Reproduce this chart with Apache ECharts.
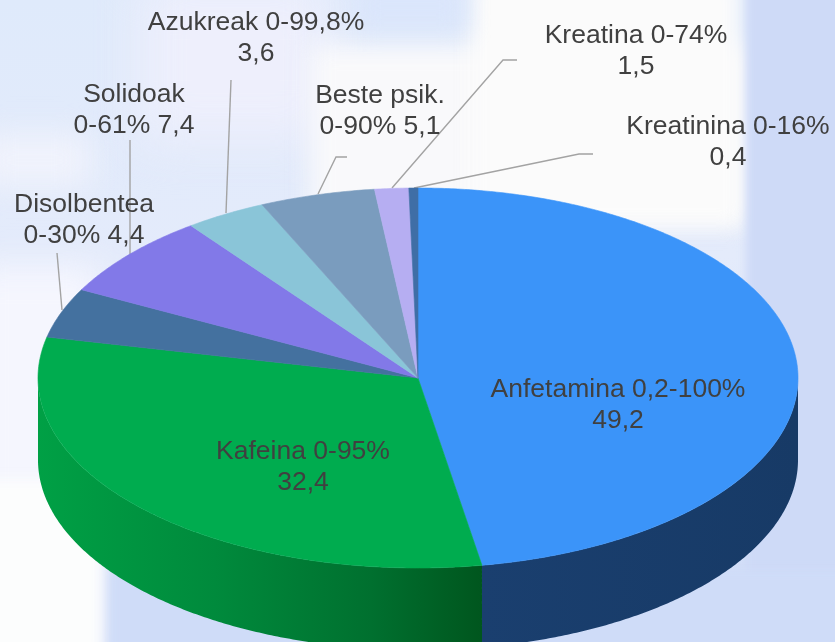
<!DOCTYPE html>
<html>
<head>
<meta charset="utf-8">
<style>
html,body{margin:0;padding:0;width:835px;height:642px;overflow:hidden;background:#e6ecfb}
#bg{position:absolute;left:0;top:0;width:835px;height:642px;overflow:hidden;background:#dfe8fb}
#bg div{position:absolute}
#main{position:absolute;left:0;top:0;width:835px;height:642px}
</style>
<script src="https://cdn.jsdelivr.net/npm/echarts@6/dist/echarts.min.js"></script>
</head>
<body>
<div id="bg">
  <div style="left:0;top:0;width:835px;height:642px;background:linear-gradient(180deg,#dfeafb 0%,#e4ebfb 40%,#cfdcf8 100%)"></div>
  <div style="left:140px;top:-20px;width:190px;height:160px;background:#eeeffc;filter:blur(25px)"></div>
  <div style="left:-20px;top:135px;width:110px;height:50px;background:#f1f3fc;filter:blur(16px)"></div>
  <div style="left:310px;top:45px;width:440px;height:180px;background:#f9f9fb;filter:blur(12px)"></div>
  <div style="left:470px;top:-20px;width:270px;height:245px;background:#fbfbfb;filter:blur(10px)"></div>
  <div style="left:355px;top:-15px;width:110px;height:42px;background:#dae5fb;filter:blur(12px)"></div>
  <div style="left:746px;top:-10px;width:110px;height:660px;background:#cedaf7;filter:blur(4px)"></div>
  <div style="left:-30px;top:265px;width:132px;height:400px;background:#f5f6fe;filter:blur(16px)"></div>
  <div style="left:-20px;top:480px;width:122px;height:180px;background:#fcfdfd;filter:blur(7px)"></div>
  <div style="left:110px;top:570px;width:740px;height:90px;background:#cfdcf8;filter:blur(4px)"></div>
</div>
<div id="main"></div>
<script>
// ---- data ----
const categories = ['Anfetamina','Kafeina','Disolbentea','Solidoak','Azukreak','Beste psik.','Kreatina','Kreatinina'];
const ranges = ['0,2-100%','0-95%','0-30%','0-61%','0-99,8%','0-90%','0-74%','0-16%'];
const values = [49.2,32.4,4.4,7.4,3.6,5.1,1.5,0.4];
const valueTexts = ['49,2','32,4','4,4','7,4','3,6','5,1','1,5','0,4'];

// ---- styling and layout ----
const topColors = ['#3b94f9','#00ac4f','#44719f','#8279e8','#8ac5d8','#7a9cbe','#b6aef2','#3f6ea6'];
const breakAfterName = [false,false,true,true,false,true,false,false];
const labelCentres = [[618,405],[303,467],[84,220],[134,110],[256,38],[380,111],[636,51],[728,142]];
const leaders = [null,null,
  [[57,253],[62,310]],
  [[130,140],[130,256]],
  [[231,80],[226,213]],
  [[347,157],[336,157],[318,194]],
  [[517,60],[503,60],[392,188]],
  [[593,154],[579,154],[414,188]]];
const cx = 418, cy = 378, rx = 380, ry = 190, depth = 82;

const total = values.reduce((a,b)=>a+b,0);
let acc = 0;
const spans = values.map(v=>{const s=acc/total*Math.PI*2; acc+=v; return [s,acc/total*Math.PI*2];});
const pt = (t,dy)=>[cx+rx*Math.sin(t), cy-ry*Math.cos(t)+(dy||0)];
function arc(a,b,dy){
  const n=Math.max(2,Math.ceil((b-a)/(Math.PI/360))),o=[];
  for(let i=0;i<=n;i++)o.push(pt(a+(b-a)*i/n,dy));
  return o;
}
const wallStyles = [
  {type:'linear',x:0,y:0,x2:1,y2:0,colorStops:[{offset:0,color:'#1a3f6f'},{offset:1,color:'#173a66'}]},
  {type:'linear',x:0,y:0,x2:1,y2:0,colorStops:[{offset:0,color:'#00a045'},{offset:0.4,color:'#008a3c'},{offset:0.75,color:'#00702f'},{offset:1,color:'#00561e'}]}
];

const seriesData = values.map((v,i)=>[i,v]);

const option = {
  animation:false,
  backgroundColor:'transparent',
  series:[
    {type:'custom',coordinateSystem:'none',silent:true,z:1,data:seriesData,
     renderItem(p,api){
       const i=api.value(0);
       const l=leaders[i];
       if(!l) return {type:'group',children:[]};
       return {type:'polyline',shape:{points:l},style:{fill:null,stroke:'#a3a3a3',lineWidth:1.4}};
     }},
    {type:'custom',coordinateSystem:'none',silent:true,z:2,data:seriesData,
     renderItem(p,api){
       const i=api.value(0);
       const a=Math.max(spans[i][0],Math.PI/2), b=Math.min(spans[i][1],Math.PI*1.5);
       if(b<=a) return {type:'group',children:[]};
       const pts=arc(a,b,0).concat(arc(a,b,depth).reverse());
       return {type:'polygon',shape:{points:pts},style:{fill:wallStyles[i]||'#333'}};
     }},
    {type:'custom',coordinateSystem:'none',silent:true,z:3,data:seriesData,
     renderItem(p,api){
       const i=api.value(0);
       const pts=[[cx,cy]].concat(arc(spans[i][0],spans[i][1],0));
       return {type:'polygon',shape:{points:pts},style:{fill:topColors[i],stroke:topColors[i],lineWidth:0.6}};
     }},
    {type:'custom',coordinateSystem:'none',silent:true,z:4,data:seriesData,
     renderItem(p,api){
       const i=api.value(0);
       const text=breakAfterName[i]
         ? categories[i]+'\n'+ranges[i]+' '+valueTexts[i]
         : categories[i]+' '+ranges[i]+'\n'+valueTexts[i];
       return {type:'text',x:labelCentres[i][0],y:labelCentres[i][1],
         style:{text,fill:'#404040',font:'26.5px "Liberation Sans", Arial, sans-serif',
                lineHeight:31,align:'center',verticalAlign:'middle'}};
     }}
  ]
};
const chart = echarts.init(document.getElementById('main'),null,{renderer:'canvas'});
chart.setOption(option);
</script>
</body>
</html>
